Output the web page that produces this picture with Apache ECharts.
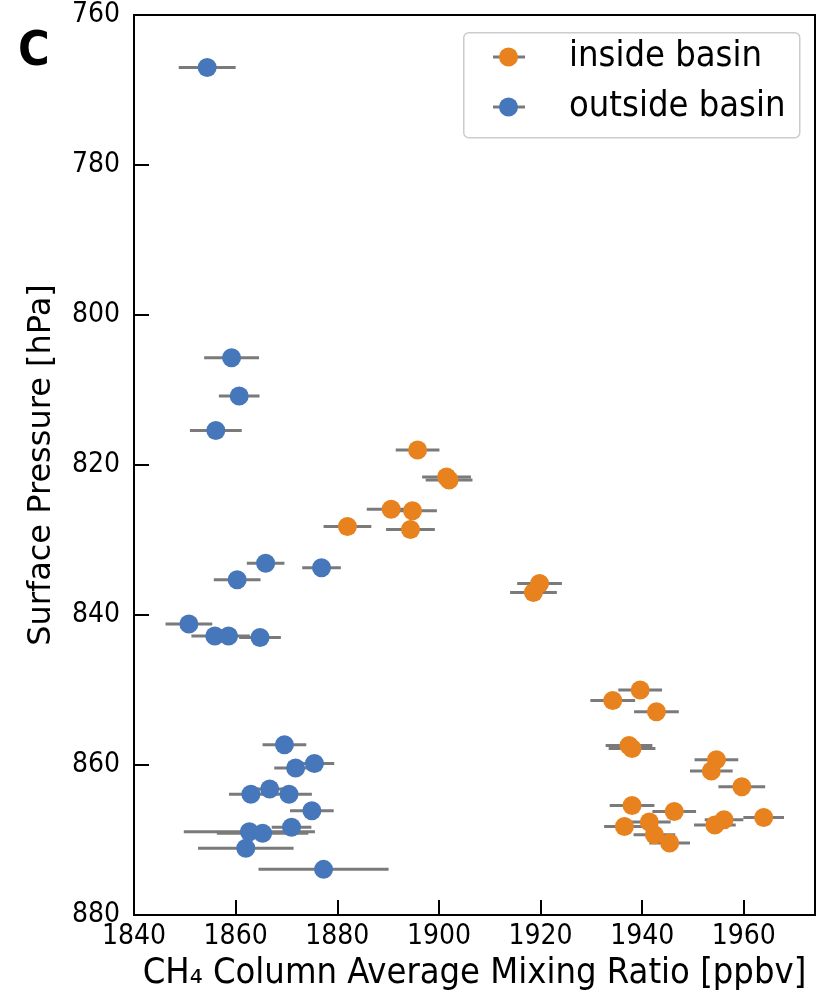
<!DOCTYPE html>
<html>
<head>
<meta charset="utf-8">
<script src="https://cdn.jsdelivr.net/npm/echarts@6/dist/echarts.min.js"></script>
<style>
html,body{margin:0;padding:0;background:#fff;}
#chart{width:821px;height:997px;}
</style>
</head>
<body>
<div id="chart"></div>
<script>
// ---- data ----
const seriesNames = ['inside basin', 'outside basin'];

const insideX   = [1895.8,1901.5,1902.0,1890.6,1894.8,1894.4,1882.0,1919.8,1918.6,1939.6,1934.2,1942.8,1937.4,1938.0,1954.6,1953.6,1959.6,1938.0,1946.3,1963.9,1936.5,1941.4,1942.4,1945.4,1954.3,1956.1];
const insideY   = [818.0,821.6,822.0,825.9,826.1,828.6,828.2,835.8,837.0,850.0,851.4,852.9,857.4,857.8,859.3,860.8,862.9,865.4,866.2,867.0,868.2,867.6,869.3,870.4,868.0,867.3];
const insideErr = [4.3,4.8,4.6,4.8,4.8,4.8,4.7,4.4,4.6,4.3,4.4,4.4,4.6,4.6,4.3,4.2,4.6,4.4,4.3,4.0,4.0,4.2,4.1,4.0,4.1,3.8];

const outsideX   = [1854.4,1859.2,1860.7,1856.1,1865.9,1876.9,1860.3,1850.8,1855.9,1858.6,1864.8,1869.6,1871.8,1875.5,1863.0,1866.7,1870.5,1875.0,1871.0,1862.7,1865.3,1862.0,1877.3];
const outsideY   = [767.0,805.7,810.8,815.4,833.1,833.7,835.3,841.2,842.8,842.8,843.0,857.3,860.4,859.8,863.9,863.2,863.9,866.1,868.3,868.9,869.1,871.1,873.9];
const outsideErr = [5.6,5.4,4.0,5.1,3.7,3.8,4.6,4.6,4.6,4.2,4.1,4.3,4.2,3.9,4.3,4.3,4.5,4.3,3.9,12.9,9.0,9.4,12.8];

const xTicks = [1840,1860,1880,1900,1920,1940,1960];
const yTicks = [760,780,800,820,840,860,880];

// ---- build ----
const ORANGE = '#e8821e';
const BLUE = '#4677ba';
const GRAY = '#7a7a7a';
const FONT = '"DejaVu Sans Condensed", "DejaVu Sans"';
const FONT_N = 'DejaVu Sans';

function pts(xs, ys) { return xs.map((x, i) => [x, ys[i]]); }
function bars(xs, ys, es) { return xs.map((x, i) => [x - es[i], x + es[i], ys[i]]); }

function errRender(params, api) {
  const p1 = api.coord([api.value(0), api.value(2)]);
  const p2 = api.coord([api.value(1), api.value(2)]);
  return {
    type: 'line',
    shape: { x1: p1[0], y1: p1[1], x2: p2[0], y2: p2[1] },
    style: { stroke: GRAY, lineWidth: 3 }
  };
}

const chart = echarts.init(document.getElementById('chart'), null, { renderer: 'canvas' });

const option = {
  animation: false,
  backgroundColor: '#fff',
  grid: { left: 134, right: 6, top: 15, bottom: 80, show: true, borderColor: '#000', borderWidth: 2, backgroundColor: 'transparent' },
  xAxis: {
    type: 'value', min: xTicks[0], max: 1974, interval: 20,
    splitLine: { show: false },
    axisLine: { show: true, onZero: false, lineStyle: { color: '#000', width: 2 } },
    axisTick: { show: true, inside: true, length: 15, lineStyle: { color: '#000', width: 2 } },
    axisLabel: { color: '#000', fontSize: 28, fontFamily: FONT, margin: 8,
      formatter: v => (xTicks.indexOf(v) >= 0 ? String(v) : '') },
    name: 'CH₄ Column Average Mixing Ratio [ppbv]',
    nameLocation: 'middle', nameGap: 39,
    nameTextStyle: { color: '#000', fontSize: 36, fontFamily: FONT }
  },
  yAxis: {
    type: 'value', inverse: true, min: yTicks[0], max: yTicks[yTicks.length - 1], interval: 20,
    splitLine: { show: false },
    axisLine: { show: true, onZero: false, lineStyle: { color: '#000', width: 2 } },
    axisTick: { show: true, inside: true, length: 15, lineStyle: { color: '#000', width: 2 } },
    axisLabel: { color: '#000', fontSize: 28, fontFamily: FONT, margin: 14 },
    name: 'Surface Pressure [hPa]',
    nameLocation: 'middle', nameGap: 76, nameRotate: 90,
    nameTextStyle: { color: '#000', fontSize: 32, fontFamily: FONT_N }
  },
  legend: {
    orient: 'vertical', left: 463, top: 32,
    padding: [5, 10, 10, 36],
    itemWidth: 19, itemHeight: 19, itemGap: 10,
    icon: 'circle',
    backgroundColor: 'transparent',
    data: seriesNames,
    textStyle: { color: '#000', fontSize: 36, fontFamily: FONT, lineHeight: 40, padding: [0, 0, 0, 46] },
    z: 10
  },
  graphic: [
    { type: 'rect', left: 463, top: 32, shape: { width: 336, height: 105, r: 5 },
      style: { fill: 'rgba(255,255,255,0.8)', stroke: '#cccccc', lineWidth: 1.5 }, z: 5 },
    { type: 'line', shape: { x1: 493, y1: 57, x2: 525, y2: 57 }, style: { stroke: GRAY, lineWidth: 3 }, z: 6 },
    { type: 'line', shape: { x1: 493, y1: 107, x2: 525, y2: 107 }, style: { stroke: GRAY, lineWidth: 3 }, z: 6 },
    { type: 'text', left: 18, top: 29, style: { text: 'C', font: 'bold 48px "DejaVu Sans Condensed", "DejaVu Sans"', fill: '#000' } }
  ],
  series: [
    { name: 'inside err', type: 'custom', renderItem: errRender, data: bars(insideX, insideY, insideErr),
      encode: { x: [0, 1], y: 2 }, z: 2, silent: true },
    { name: 'outside err', type: 'custom', renderItem: errRender, data: bars(outsideX, outsideY, outsideErr),
      encode: { x: [0, 1], y: 2 }, z: 2, silent: true },
    { name: seriesNames[0], type: 'scatter', data: pts(insideX, insideY), symbolSize: 19,
      itemStyle: { color: ORANGE, opacity: 1 }, z: 3 },
    { name: seriesNames[1], type: 'scatter', data: pts(outsideX, outsideY), symbolSize: 19,
      itemStyle: { color: BLUE, opacity: 1 }, z: 3 }
  ]
};
chart.setOption(option);
</script>
</body>
</html>
